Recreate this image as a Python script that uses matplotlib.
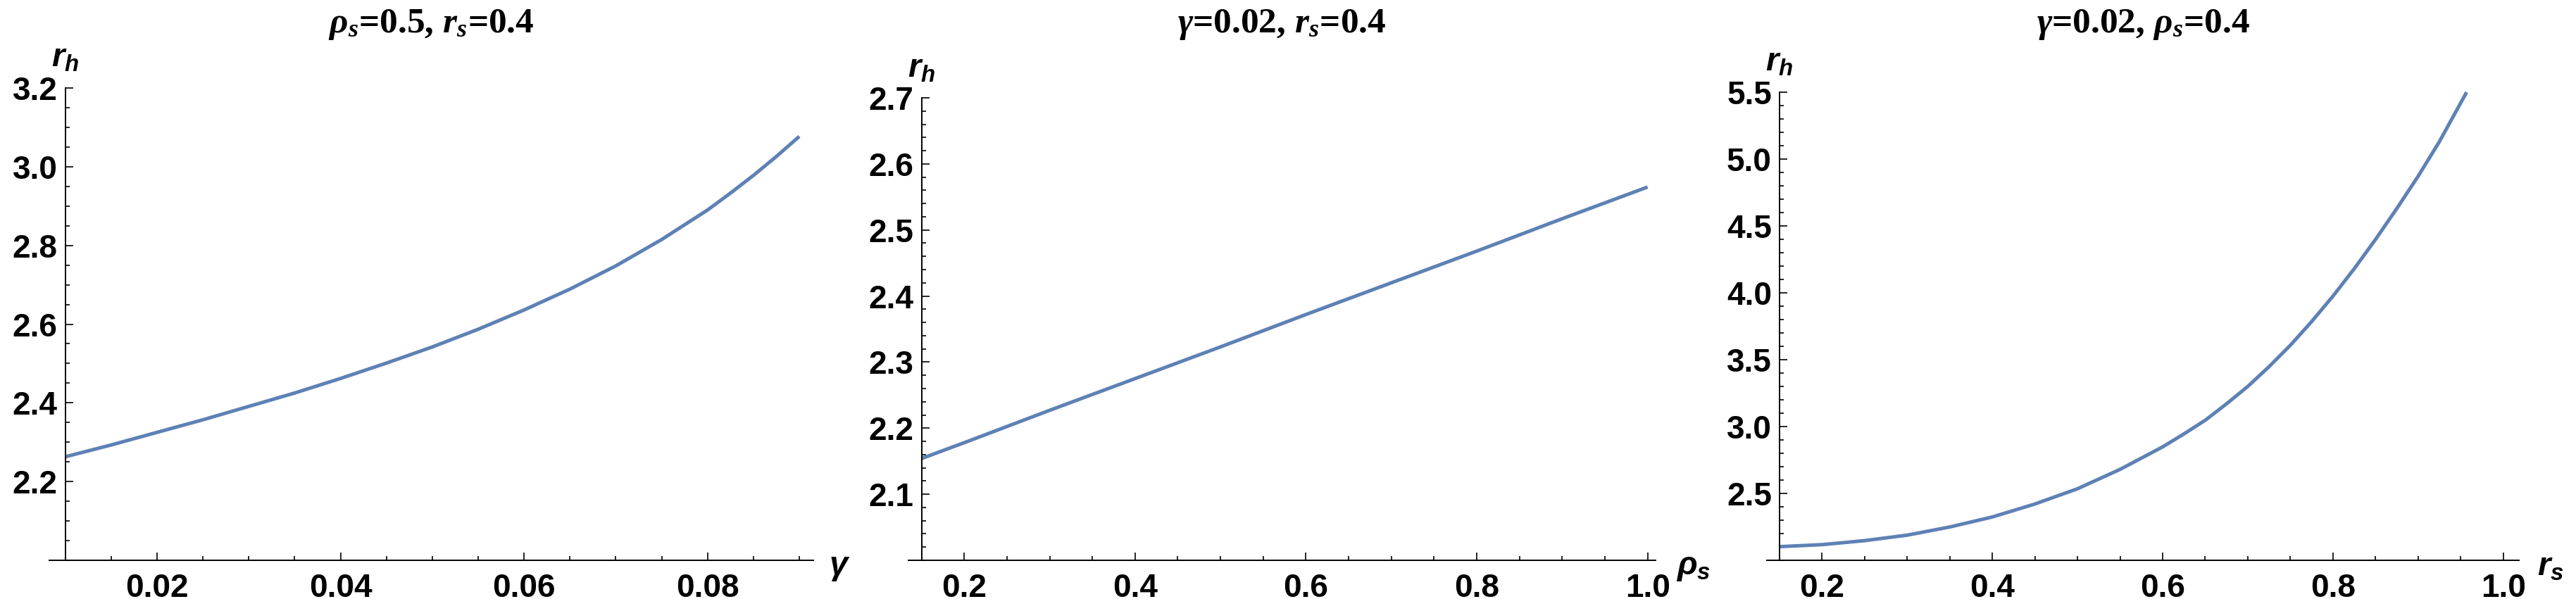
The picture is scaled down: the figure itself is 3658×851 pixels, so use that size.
import matplotlib
matplotlib.use("Agg")
import matplotlib.pyplot as plt
from matplotlib.ticker import MultipleLocator, FixedLocator, FormatStrFormatter

# data (horizon radius r_h vs parameter)
gamma = [0.010, 0.015, 0.020, 0.025, 0.030, 0.035, 0.040, 0.045, 0.050,
         0.055, 0.060, 0.065, 0.070, 0.075, 0.080, 0.0825, 0.085, 0.0875, 0.090]
rh_gamma = [2.263, 2.293, 2.325, 2.357, 2.391, 2.425, 2.462, 2.501, 2.542,
            2.587, 2.636, 2.689, 2.748, 2.815, 2.890, 2.933, 2.978, 3.026, 3.077]

rho_s = [0.15, 0.20, 0.30, 0.40, 0.50, 0.60, 0.70, 0.80, 0.90, 1.00]
rh_rho = [2.154, 2.178, 2.227, 2.275, 2.323, 2.372, 2.420, 2.468, 2.517, 2.565]

r_s = [0.15, 0.20, 0.25, 0.30, 0.35, 0.40, 0.45, 0.50, 0.55, 0.60, 0.625,
       0.65, 0.675, 0.70, 0.725, 0.75, 0.775, 0.80, 0.825, 0.85, 0.875,
       0.90, 0.925, 0.957]
rh_rs = [2.102, 2.117, 2.147, 2.188, 2.249, 2.324, 2.421, 2.535, 2.680, 2.848, 2.945,
         3.047, 3.170, 3.300, 3.448, 3.608, 3.785, 3.975, 4.180, 4.399, 4.630,
         4.871, 5.130, 5.500]

titles = [r"$\mathsf{\rho_s}$=0.5, $\mathsf{r_s}$=0.4",
          r"$\mathsf{\gamma}$=0.02, $\mathsf{r_s}$=0.4",
          r"$\mathsf{\gamma}$=0.02, $\mathsf{\rho_s}$=0.4"]
xlabels = [r"$\gamma$", r"$\rho_s$", r"$r_s$"]

plt.rcParams["mathtext.fontset"] = "custom"
plt.rcParams["mathtext.it"] = "Liberation Sans:bold:italic"
plt.rcParams["mathtext.rm"] = "Liberation Sans:bold"
plt.rcParams["mathtext.sf"] = "Liberation Serif:bold:italic"

W, H = 3658, 851
fig = plt.figure(figsize=(W / 100, H / 100), dpi=100)

line_color = "#5E81B5"

# (left px, right px, top px, xlim, ylim, y-axis x, x majors, x minor, y majors, y minor, x fmt, xlabel gap)
panels = [
    (70, 1155, 125, (0.00826, 0.09153), (2.0, 3.2), 0.01,
     [0.02, 0.04, 0.06, 0.08], 0.005, [2.2, 2.4, 2.6, 2.8, 3.0, 3.2], 0.05, "%.2f", 22),
    (1290, 2351, 139, (0.1347, 1.0094), (2.0, 2.7), 0.15,
     [0.2, 0.4, 0.6, 0.8, 1.0], 0.05, [2.1, 2.2, 2.3, 2.4, 2.5, 2.6, 2.7], 0.02, "%.1f", 29),
    (2509, 3577, 131, (0.1351, 1.0185), (2.0, 5.5), 0.15,
     [0.2, 0.4, 0.6, 0.8, 1.0], 0.05, [2.5, 3.0, 3.5, 4.0, 4.5, 5.0, 5.5], 0.1, "%.1f", 26),
]
series = [(gamma, rh_gamma), (rho_s, rh_rho), (r_s, rh_rs)]
axis_y = 796

for i, (left, right, top, xlim, ylim, x0, xmaj, xmin_step, ymaj, ymin_step, xfmt, gap) in enumerate(panels):
    ax = fig.add_axes([left / W, 1 - axis_y / H, (right - left) / W, (axis_y - top) / H])
    x, y = series[i]
    ax.plot(x, y, color=line_color, lw=3.6, solid_capstyle="butt",
            solid_joinstyle="round", clip_on=False)
    ax.set_xlim(*xlim)
    ax.set_ylim(*ylim)

    for s in ("top", "right"):
        ax.spines[s].set_visible(False)
    ax.spines["left"].set_position(("data", x0))
    for s in ("left", "bottom"):
        ax.spines[s].set_linewidth(1.4)

    ax.xaxis.set_major_locator(FixedLocator(xmaj))
    ax.xaxis.set_minor_locator(MultipleLocator(xmin_step))
    ax.yaxis.set_major_locator(FixedLocator(ymaj))
    ax.yaxis.set_minor_locator(MultipleLocator(ymin_step))
    ax.xaxis.set_major_formatter(FormatStrFormatter(xfmt))
    ax.yaxis.set_major_formatter(FormatStrFormatter("%.1f"))

    ax.tick_params(which="both", direction="in", width=1.2)
    ax.tick_params(which="major", length=8)
    ax.tick_params(which="minor", length=4.5)
    ax.tick_params(axis="x", which="major", pad=13)
    ax.tick_params(axis="y", which="major", pad=8)
    for lab in ax.get_xticklabels() + ax.get_yticklabels():
        lab.set_fontfamily("Liberation Sans")
        lab.set_fontweight("bold")
        lab.set_fontsize(33)

    # axis labels at the ends of the axes
    ax.annotate(r"$r_h$", xy=(x0, ylim[1]), xycoords="data",
                xytext=(0, 20), textcoords="offset pixels",
                ha="center", va="bottom", fontsize=34)
    ax.annotate(xlabels[i], xy=(1, 0), xycoords="axes fraction",
                xytext=(gap, -9), textcoords="offset pixels",
                ha="left", va="center", fontsize=34)

    fig.text((left + right) / 2 / W, 1 - 46 / H, titles[i],
             ha="center", va="baseline", fontsize=37,
             family="Liberation Serif", weight="bold")

fig.savefig("out.png", dpi=100)
